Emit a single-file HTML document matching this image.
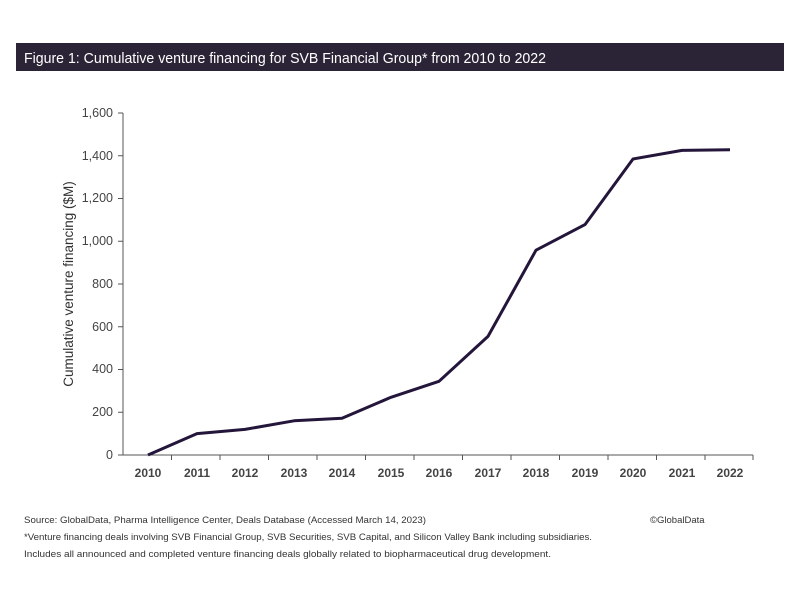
<!DOCTYPE html>
<html><head><meta charset="utf-8"><style>
body{margin:0;background:#fff;width:800px;height:599px;overflow:hidden;font-family:"Liberation Sans",sans-serif}
</style></head><body>
<svg width="800" height="599" viewBox="0 0 800 599" xmlns="http://www.w3.org/2000/svg" font-family="Liberation Sans, sans-serif">
<rect x="16" y="43" width="768" height="28" fill="#2b2437"/>
<text x="24" y="63" fill="#fff" font-size="15" textLength="522" lengthAdjust="spacingAndGlyphs">Figure 1: Cumulative venture financing for SVB Financial Group* from 2010 to 2022</text>
<g stroke="#555" stroke-width="1">
<line x1="123" y1="113" x2="123" y2="455"/>
<line x1="123" y1="455" x2="753" y2="455"/>
<line x1="118" y1="113" x2="123" y2="113"/>
<line x1="118" y1="155.75" x2="123" y2="155.75"/>
<line x1="118" y1="198.5" x2="123" y2="198.5"/>
<line x1="118" y1="241.25" x2="123" y2="241.25"/>
<line x1="118" y1="284" x2="123" y2="284"/>
<line x1="118" y1="326.75" x2="123" y2="326.75"/>
<line x1="118" y1="369.5" x2="123" y2="369.5"/>
<line x1="118" y1="412.25" x2="123" y2="412.25"/>
<line x1="118" y1="455" x2="123" y2="455"/>
</g>
<g stroke="#555" stroke-width="1">
<line x1="171.5" y1="455" x2="171.5" y2="460"/><line x1="220" y1="455" x2="220" y2="460"/><line x1="268.5" y1="455" x2="268.5" y2="460"/><line x1="317" y1="455" x2="317" y2="460"/><line x1="365.5" y1="455" x2="365.5" y2="460"/><line x1="414" y1="455" x2="414" y2="460"/><line x1="462.5" y1="455" x2="462.5" y2="460"/><line x1="511" y1="455" x2="511" y2="460"/><line x1="559.5" y1="455" x2="559.5" y2="460"/><line x1="608" y1="455" x2="608" y2="460"/><line x1="656.5" y1="455" x2="656.5" y2="460"/><line x1="705" y1="455" x2="705" y2="460"/><line x1="753" y1="455" x2="753" y2="460"/>
</g>
<g font-size="12.5" fill="#444" text-anchor="end">
<text x="113" y="117">1,600</text><text x="113" y="160">1,400</text><text x="113" y="202">1,200</text><text x="113" y="245">1,000</text><text x="113" y="288">800</text><text x="113" y="331">600</text><text x="113" y="373">400</text><text x="113" y="416">200</text><text x="113" y="459">0</text>
</g>
<g font-size="12" fill="#444" text-anchor="middle" font-weight="bold">
<text x="148" y="477">2010</text><text x="197" y="477">2011</text><text x="245" y="477">2012</text><text x="294" y="477">2013</text><text x="342" y="477">2014</text><text x="391" y="477">2015</text><text x="439" y="477">2016</text><text x="488" y="477">2017</text><text x="536" y="477">2018</text><text x="585" y="477">2019</text><text x="633" y="477">2020</text><text x="682" y="477">2021</text><text x="730" y="477">2022</text>
</g>
<text transform="translate(73,284) rotate(-90)" font-size="13.5" fill="#333" text-anchor="middle">Cumulative venture financing  ($M)</text>
<polyline fill="none" stroke="#24163a" stroke-width="3" stroke-linejoin="round" points="148,455 197,433.6 245,429.4 294,420.8 342,418.2 391,397.3 439,381.3 488,336.4 536,250.2 585,224.6 633,159 682,150.4 730,149.8"/>
<g font-size="9.5" fill="#333">
<text x="24" y="523" textLength="402" lengthAdjust="spacingAndGlyphs">Source: GlobalData, Pharma Intelligence Center, Deals Database (Accessed March 14, 2023)</text>
<text x="650" y="523">©GlobalData</text>
<text x="24" y="540" textLength="568" lengthAdjust="spacingAndGlyphs">*Venture financing deals involving SVB Financial Group, SVB Securities, SVB Capital, and Silicon Valley Bank including subsidiaries.</text>
<text x="24" y="557" textLength="527" lengthAdjust="spacingAndGlyphs">Includes all announced and completed venture financing deals globally related to biopharmaceutical drug development.</text>
</g>
</svg>
</body></html>
